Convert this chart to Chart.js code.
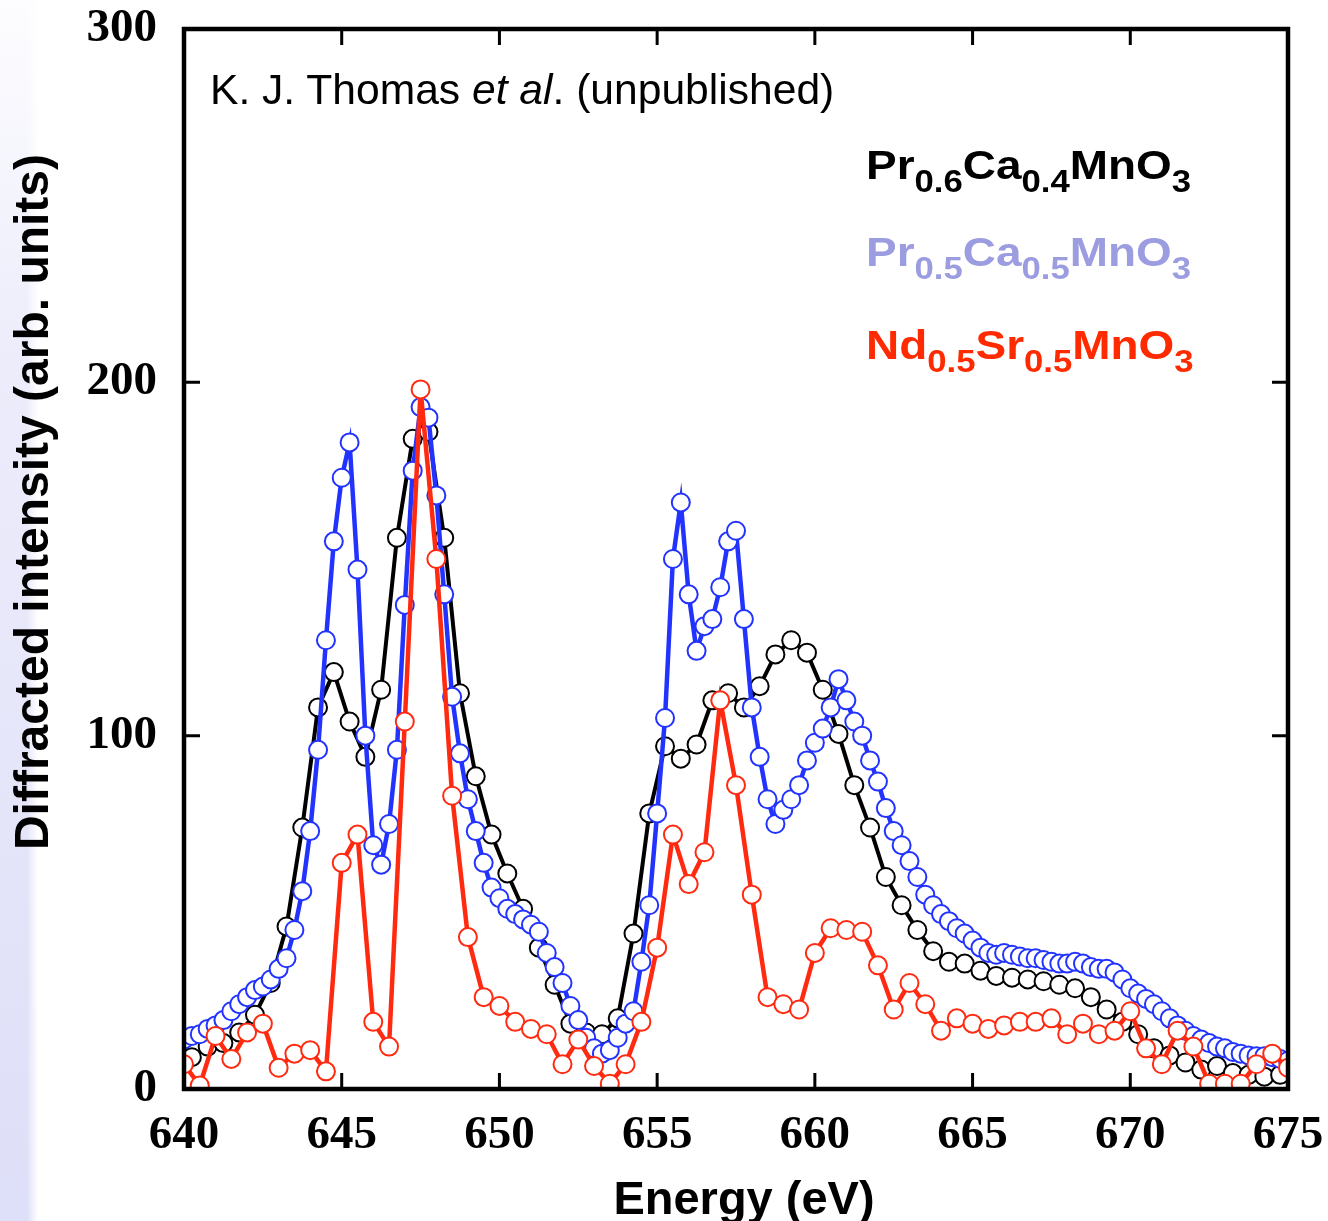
<!DOCTYPE html>
<html>
<head>
<meta charset="utf-8">
<title>Mn L-edge resonant diffraction</title>
<script src="https://cdn.jsdelivr.net/npm/chart.js@4.4.1/dist/chart.umd.min.js"></script>
<style>
  html, body { margin: 0; padding: 0; background: #fff; }
  #wrap { position: relative; width: 1328px; height: 1221px; overflow: hidden; }
  #strip {
    position: absolute; left: 0; top: 0; width: 38px; height: 1221px;
    background:
      linear-gradient(to right, rgba(255,255,255,0) 0, rgba(255,255,255,0) 27px, #fff 38px),
      linear-gradient(to bottom, #fdfdff 0%, #ececfb 30%, #dedff8 100%);
  }
  canvas { position: absolute; left: 0; top: 0; }
  .txt { position: absolute; font-family: "Liberation Sans", Arial, sans-serif; white-space: nowrap; line-height: 1; }
  .note { left: 210px; top: 68px; font-size: 42.6px; color: #000; }
  .leg { left: 866px; font-size: 41px; font-weight: bold; transform: scaleX(1.12); transform-origin: 0 0; }
  .leg .s { font-size: 31px; position: relative; top: 13px; }
  .xtitle { left: 544px; width: 400px; top: 1174px; font-size: 47px; font-weight: bold; text-align: center; }
  .ytitle {
    left: -368px; top: 477px; width: 800px; height: 50px; line-height: 50px;
    font-size: 48px; font-weight: bold; text-align: center; transform: rotate(-90deg);
  }
</style>
</head>
<body>
<div id="wrap">
  <div id="strip"></div>
  <canvas id="chart" width="1328" height="1221"></canvas>
  <div class="txt note">K. J. Thomas <i>et al</i>. (unpublished)</div>
  <div class="txt leg" style="top:145px;color:#000">Pr<span class="s">0.6</span>Ca<span class="s">0.4</span>MnO<span class="s">3</span></div>
  <div class="txt leg" style="top:232px;color:#9c9ce0">Pr<span class="s">0.5</span>Ca<span class="s">0.5</span>MnO<span class="s">3</span></div>
  <div class="txt leg" style="top:325px;color:#ff2a00">Nd<span class="s">0.5</span>Sr<span class="s">0.5</span>MnO<span class="s">3</span></div>
  <div class="txt xtitle">Energy (eV)</div>
  <div class="txt ytitle">Diffracted intensity (arb. units)</div>
</div>
<script>
// Pr0.6Ca0.4MnO3 (black)
const pcmo64Energy = [
  640.25, 640.75, 641.25, 641.75, 642.25, 642.75, 643.25, 643.75, 644.25, 644.75,
  645.25, 645.75, 646.25, 646.75, 647.25, 647.75, 648.25, 648.75, 649.25, 649.75,
  650.25, 650.75, 651.25, 651.75, 652.25, 652.75, 653.25, 653.75, 654.25, 654.75,
  655.25, 655.75, 656.25, 656.75, 657.25, 657.75, 658.25, 658.75, 659.25, 659.75,
  660.25, 660.75, 661.25, 661.75, 662.25, 662.75, 663.25, 663.75, 664.25, 664.75,
  665.25, 665.75, 666.25, 666.75, 667.25, 667.75, 668.25, 668.75, 669.25, 669.75,
  670.25, 670.75, 671.25, 671.75, 672.25, 672.75, 673.25, 673.75, 674.25, 674.75
];
const pcmo64Intensity = [
  9, 12, 13, 16, 21, 30, 46, 74, 108, 118,
  104, 94, 113, 156, 184, 186, 156, 112, 88.5, 72,
  61, 51, 40, 29.5, 18.5, 16, 15.5, 20, 44, 78,
  97, 93.5, 97.5, 110, 112, 108, 114, 123, 127, 123.5,
  113, 100.5, 86, 74, 60, 52, 45, 39, 36, 35.5,
  33.5, 32, 31.5, 31, 30.5, 29.5, 28.5, 26, 22.5, 19,
  15.5, 11.5, 9.5, 7.5, 5.5, 6.5, 4.5, 4, 3.5, 4
];

// Pr0.5Ca0.5MnO3 (blue)
const pcmo55Energy = [
  640, 640.25, 640.5, 640.75, 641, 641.25, 641.5, 641.75,
  642, 642.25, 642.5, 642.75, 643, 643.25, 643.5, 643.75,
  644, 644.25, 644.5, 644.75, 645, 645.25, 645.5, 645.75,
  646, 646.25, 646.5, 646.75, 647, 647.25, 647.5, 647.75,
  648, 648.25, 648.5, 648.75, 649, 649.25, 649.5, 649.75,
  650, 650.25, 650.5, 650.75, 651, 651.25, 651.5, 651.75,
  652, 652.25, 652.5, 652.75, 653, 653.25, 653.5, 653.75,
  654, 654.25, 654.5, 654.75, 655, 655.25, 655.5, 655.75,
  656, 656.25, 656.5, 656.75, 657, 657.25, 657.5, 657.75,
  658, 658.25, 658.5, 658.75, 659, 659.25, 659.5, 659.75,
  660, 660.25, 660.5, 660.75, 661, 661.25, 661.5, 661.75,
  662, 662.25, 662.5, 662.75, 663, 663.25, 663.5, 663.75,
  664, 664.25, 664.5, 664.75, 665, 665.25, 665.5, 665.75,
  666, 666.25, 666.5, 666.75, 667, 667.25, 667.5, 667.75,
  668, 668.25, 668.5, 668.75, 669, 669.25, 669.5, 669.75,
  670, 670.25, 670.5, 670.75, 671, 671.25, 671.5, 671.75,
  672, 672.25, 672.5, 672.75, 673, 673.25, 673.5, 673.75,
  674, 674.25, 674.5, 674.75, 675
];
const pcmo55Intensity = [
  14, 15, 15.5, 17, 18, 19.5, 22, 24,
  26, 28, 29, 31, 34, 37, 45, 56,
  73, 96, 127, 155, 173, 183, 147, 100,
  69, 63.5, 75, 96, 137, 175, 193, 190,
  168, 140, 111, 95, 82, 73, 64, 57,
  54, 51, 49.5, 48, 46.5, 44.5, 38.5, 34.5,
  30, 23.5, 19.5, 14.5, 11.5, 10, 11, 14.5,
  18.5, 22, 36, 52, 78, 105, 150, 166,
  140, 124, 131, 133, 142, 155, 158, 133,
  108, 94, 82, 75, 79, 82, 86, 93,
  98, 102, 108, 116, 110, 104, 100, 93,
  87, 79.5, 73, 69, 64.5, 60, 55, 52,
  49.5, 47.5, 45.5, 44, 42, 40, 38.5, 38,
  38.5, 38, 37.5, 37, 37, 36.5, 36, 35.5,
  35.5, 36, 35.5, 34.5, 34, 34, 33, 31,
  28.5, 27, 25.5, 24, 22, 20, 18, 16.5,
  15, 14, 13, 12, 11.5, 10.5, 10, 9.5,
  9.3, 9.3, 9, 8.5, 8
];

// Nd0.5Sr0.5MnO3 (red)
const nsmoEnergy = [
  640, 640.5, 641, 641.5, 642, 642.5, 643, 643.5, 644, 644.5,
  645, 645.5, 646, 646.5, 647, 647.5, 648, 648.5, 649, 649.5,
  650, 650.5, 651, 651.5, 652, 652.5, 653, 653.5, 654, 654.5,
  655, 655.5, 656, 656.5, 657, 657.5, 658, 658.5, 659, 659.5,
  660, 660.5, 661, 661.5, 662, 662.5, 663, 663.5, 664, 664.5,
  665, 665.5, 666, 666.5, 667, 667.5, 668, 668.5, 669, 669.5,
  670, 670.5, 671, 671.5, 672, 672.5, 673, 673.5, 674, 674.5, 675
];
const nsmoIntensity = [
  7, 1, 15, 8.5, 16, 18.5, 6, 10, 11, 5,
  64, 72, 19, 12, 104, 198, 150, 83, 43, 26,
  23.5, 19, 17, 15.5, 7, 14, 6.5, 1.5, 7, 19,
  40, 72, 58, 67, 110, 86, 55, 26, 24, 22.5,
  38.5, 45.5, 45, 44.5, 35, 22.5, 30, 24, 16.5, 20,
  18.5, 17, 18, 19, 19, 20, 15.5, 18.5, 15.5, 16.5,
  22, 11.5, 7, 16.5, 12, 1.5, 1.5, 1.5, 7, 10, 6
];

const xTickStep = 5;
const yTickStep = 100;

function toPoints(xs, ys) {
  return xs.map((x, i) => ({ x: x, y: ys[i] }));
}

function series(label, xs, ys, color, width, order) {
  return {
    label: label,
    data: toPoints(xs, ys),
    showLine: true,
    borderColor: color,
    borderWidth: width,
    pointRadius: 9,
    pointBorderWidth: 2,
    pointBorderColor: color,
    pointBackgroundColor: '#fff',
    tension: 0,
    order: order
  };
}

// box frame with inward tick marks on all four sides
const frameTicks = {
  id: 'frameTicks',
  afterDatasetsDraw(chart) {
    const { ctx, chartArea: a, scales } = chart;
    const len = 16;
    ctx.save();
    ctx.strokeStyle = '#000';
    ctx.lineWidth = 3;
    ctx.beginPath();
    scales.x.ticks.forEach(t => {
      const px = scales.x.getPixelForValue(t.value);
      ctx.moveTo(px, a.bottom); ctx.lineTo(px, a.bottom - len);
      ctx.moveTo(px, a.top); ctx.lineTo(px, a.top + len);
    });
    scales.y.ticks.forEach(t => {
      const py = scales.y.getPixelForValue(t.value);
      ctx.moveTo(a.left, py); ctx.lineTo(a.left + len, py);
      ctx.moveTo(a.right, py); ctx.lineTo(a.right - len, py);
    });
    ctx.stroke();
    ctx.lineWidth = 4.5;
    ctx.strokeRect(a.left, a.top, a.right - a.left, a.bottom - a.top);
    ctx.restore();
  }
};

const tickFont = { family: '"Liberation Serif", "Times New Roman", serif', size: 47, weight: 'bold' };

new Chart(document.getElementById('chart'), {
  type: 'scatter',
  data: {
    datasets: [
      series('Pr0.6Ca0.4MnO3', pcmo64Energy, pcmo64Intensity, '#000000', 4, 3),
      series('Pr0.5Ca0.5MnO3', pcmo55Energy, pcmo55Intensity, '#2233ff', 4.5, 2),
      series('Nd0.5Sr0.5MnO3', nsmoEnergy, nsmoIntensity, '#ff2a10', 4.5, 1)
    ]
  },
  options: {
    responsive: false,
    animation: false,
    devicePixelRatio: 1,
    layout: { padding: { top: 29, right: 40, left: 0, bottom: 0 } },
    plugins: { legend: { display: false }, tooltip: { enabled: false } },
    scales: {
      x: {
        type: 'linear', min: 640, max: 675,
        grid: { display: false, drawTicks: false },
        border: { display: false },
        ticks: { stepSize: xTickStep, padding: 19, color: '#000', font: tickFont, maxRotation: 0, autoSkip: false },
        afterFit: s => { s.height = 132; s.paddingLeft = 0; s.paddingRight = 0; }
      },
      y: {
        type: 'linear', min: 0, max: 300,
        grid: { display: false, drawTicks: false },
        border: { display: false },
        ticks: { stepSize: yTickStep, padding: 27, color: '#000', font: tickFont },
        afterFit: s => { s.width = 184; s.paddingTop = 0; s.paddingBottom = 0; }
      }
    }
  },
  plugins: [frameTicks]
});
</script>
</body>
</html>
